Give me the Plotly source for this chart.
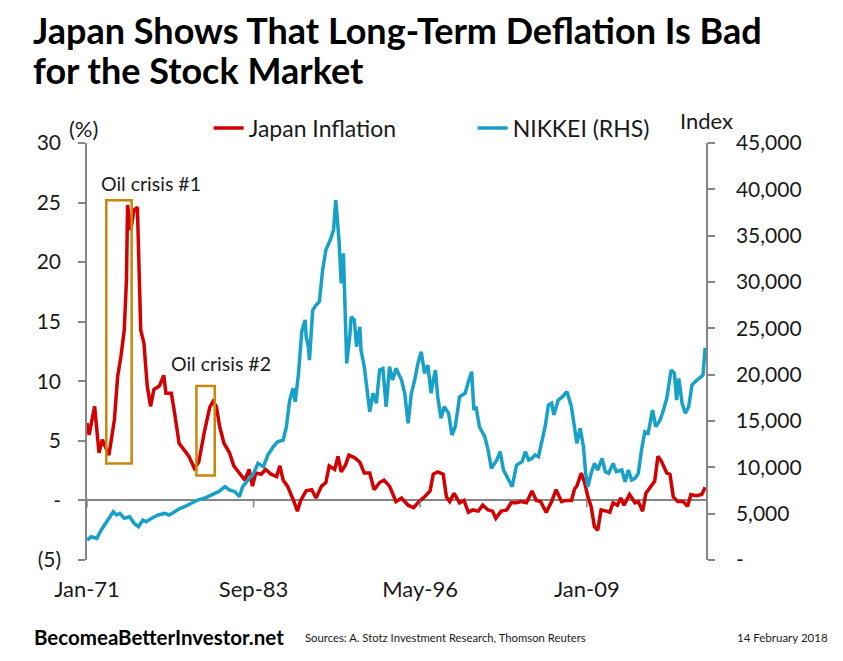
import plotly.graph_objects as go

# Japan CPI inflation, % y/y
infl_dates = [
    "1971-01", "1971-03", "1971-08", "1971-12", "1972-03", "1972-09", "1973-02", "1973-05",
    "1973-08", "1973-11", "1974-01", "1974-02", "1974-05", "1974-08", "1974-11", "1974-12",
    "1975-02", "1975-05", "1975-08", "1975-11", "1976-02", "1976-07", "1976-11", "1977-01",
    "1977-06", "1977-09", "1978-01", "1978-06", "1978-10", "1979-03", "1979-07", "1979-12",
    "1980-05", "1980-08", "1980-11", "1981-02", "1981-06", "1981-11", "1982-03", "1982-08",
    "1983-01", "1983-05", "1983-08", "1983-11", "1984-04", "1984-08", "1985-01", "1985-06",
    "1985-09", "1985-12", "1986-04", "1986-09", "1987-01", "1987-04", "1987-09", "1988-02",
    "1988-06", "1988-11", "1989-03", "1989-06", "1989-11", "1990-02", "1990-05", "1990-09",
    "1990-12", "1991-05", "1991-10", "1992-02", "1992-07", "1992-11", "1993-04", "1993-08",
    "1994-01", "1994-07", "1994-12", "1995-06", "1995-11", "1996-04", "1996-09", "1997-02",
    "1997-05", "1997-09", "1998-02", "1998-05", "1998-08", "1998-12", "1999-05", "1999-09",
    "2000-01", "2000-05", "2000-10", "2001-02", "2001-07", "2001-11", "2002-02", "2002-07",
    "2002-12", "2003-04", "2003-09", "2004-01", "2004-06", "2004-11", "2005-03", "2005-07",
    "2005-12", "2006-05", "2006-09", "2007-02", "2007-06", "2007-11", "2008-02", "2008-04",
    "2008-08", "2008-11", "2009-02", "2009-05", "2009-08", "2009-11", "2010-02", "2010-07",
    "2010-10", "2011-01", "2011-05", "2011-08", "2011-11", "2012-04", "2012-09", "2012-12",
    "2013-04", "2013-07", "2013-12", "2014-03", "2014-06", "2014-09", "2015-02", "2015-05",
    "2015-08", "2015-12", "2016-05", "2016-09", "2016-12", "2017-05", "2017-10", "2018-01",
]
infl_values = [
    6.5, 5.5, 7.9, 4.0, 5.1, 3.8, 6.8, 10.4,
    12.1, 14.3, 18.5, 24.8, 22.7, 24.4, 24.6, 21.3,
    14.3, 13.2, 9.6, 7.9, 9.3, 9.6, 10.5, 9.0,
    9.0, 7.3, 4.8, 4.2, 3.7, 2.7, 3.2, 5.7,
    7.8, 8.3, 7.9, 6.2, 4.8, 4.0, 2.9, 2.3,
    1.7, 2.6, 1.2, 2.3, 2.2, 2.6, 2.2, 2.0,
    2.9, 1.7, 1.2, 0.1, -0.9, 0.0, 0.8, 0.9,
    0.2, 1.2, 1.5, 2.9, 2.6, 3.7, 2.4, 3.0,
    3.8, 3.6, 3.2, 2.3, 2.3, 0.9, 1.5, 1.7,
    1.2, -0.1, 0.2, -0.4, -0.6, -0.1, 0.3, 0.8,
    2.2, 2.4, 2.2, 0.3, -0.1, 0.6, -0.2, 0.0,
    -1.0, -0.8, -0.9, -0.4, -0.8, -0.9, -1.5, -0.9,
    -0.8, -0.2, -0.2, -0.1, -0.2, 0.8, 0.0, -0.1,
    -1.0, -0.1, 0.9, -0.1, 0.0, 0.0, 1.0, 1.2,
    2.3, 1.5, 0.3, -0.5, -2.2, -2.5, -0.8, -0.9,
    -1.0, -0.2, -0.4, 0.2, -0.4, 0.5, -0.2, -0.1,
    -0.9, 0.6, 1.3, 1.6, 3.7, 3.3, 2.3, 2.2,
    0.3, -0.1, -0.1, -0.5, 0.5, 0.4, 0.5, 1.1,
]

# Nikkei 225 index level (right axis)
nk_dates = [
    "1971-01", "1971-05", "1971-10", "1972-02", "1972-08", "1973-01", "1973-04", "1973-07",
    "1973-11", "1974-04", "1974-08", "1974-12", "1975-04", "1975-07", "1975-12", "1976-06",
    "1976-12", "1977-04", "1977-09", "1978-02", "1978-06", "1978-12", "1979-06", "1979-12",
    "1980-07", "1981-01", "1981-07", "1981-11", "1982-04", "1982-08", "1982-11", "1983-04",
    "1983-09", "1984-01", "1984-06", "1984-10", "1985-03", "1985-07", "1985-12", "1986-03",
    "1986-06", "1986-09", "1986-11", "1987-02", "1987-05", "1987-08", "1987-09", "1987-11",
    "1987-12", "1988-03", "1988-06", "1988-09", "1988-12", "1989-03", "1989-07", "1989-10",
    "1989-12", "1990-03", "1990-05", "1990-07", "1990-08", "1990-10", "1991-01", "1991-02",
    "1991-05", "1991-07", "1991-10", "1991-11", "1992-02", "1992-05", "1992-07", "1992-10",
    "1993-01", "1993-04", "1993-07", "1993-10", "1994-01", "1994-04", "1994-07", "1994-12",
    "1995-03", "1995-06", "1995-09", "1995-12", "1996-03", "1996-06", "1996-09", "1996-12",
    "1997-03", "1997-05", "1997-07", "1997-09", "1997-12", "1998-03", "1998-07", "1998-10",
    "1999-01", "1999-05", "1999-10", "2000-01", "2000-04", "2000-06", "2000-08", "2000-11",
    "2001-04", "2001-07", "2001-10", "2002-03", "2002-06", "2002-09", "2003-01", "2003-05",
    "2003-09", "2004-02", "2004-05", "2004-08", "2004-11", "2005-02", "2005-05", "2005-08",
    "2005-11", "2006-02", "2006-05", "2006-07", "2006-11", "2007-03", "2007-07", "2007-11",
    "2008-02", "2008-04", "2008-07", "2008-10", "2008-12", "2009-02", "2009-05", "2009-08",
    "2009-11", "2010-03", "2010-06", "2010-09", "2011-01", "2011-04", "2011-09", "2011-12",
    "2012-03", "2012-06", "2012-09", "2012-12", "2013-03", "2013-06", "2013-09", "2014-01",
    "2014-04", "2014-08", "2014-11", "2015-02", "2015-06", "2015-09", "2015-11", "2016-01",
    "2016-04", "2016-07", "2016-10", "2017-01", "2017-04", "2017-08", "2017-11", "2018-01",
]
nk_values = [
    2160, 2510, 2340, 3240, 4320, 5210, 4860, 5040,
    4500, 4670, 3960, 3590, 4320, 4130, 4500, 4860,
    5040, 4860, 5210, 5580, 5750, 6120, 6470, 6660,
    7010, 7370, 7910, 7550, 7370, 6830, 7910, 8630,
    9350, 10430, 10070, 11330, 12230, 12770, 12950, 14380,
    17260, 18530, 17080, 20140, 24640, 25900, 24100, 23020,
    21580, 26980, 27510, 27870, 31290, 33450, 34530, 35610,
    38840, 34530, 29860, 33100, 28410, 21220, 24460, 26250,
    25900, 23020, 25170, 22660, 20860, 17990, 16000, 17990,
    16910, 20500, 20680, 16540, 20860, 19420, 20680, 19420,
    17990, 14750, 17990, 19420, 21220, 22480, 20140, 21040,
    17990, 19420, 20500, 17620, 15290, 16540, 15830, 13490,
    14380, 17620, 17990, 19240, 20320, 16190, 16540, 14380,
    13300, 11870, 9890, 10790, 11690, 9710, 8810, 7910,
    10250, 10610, 11690, 10790, 10970, 11330, 11150, 12590,
    14380, 16720, 16910, 15650, 17260, 17620, 18160, 16540,
    14380, 12590, 14210, 12230, 9350, 7910, 9350, 10430,
    9710, 10970, 9530, 9350, 10430, 9530, 9710, 8450,
    9710, 8630, 8810, 9350, 11870, 13840, 13670, 16190,
    14380, 15110, 16190, 17450, 20500, 20140, 17260, 19600,
    16910, 15830, 16540, 18880, 19240, 19600, 19960, 22900,
]

x_tick_dates = ["1971-01-01", "1983-09-01", "1996-05-01", "2009-01-01"]
x_tick_labels = ["Jan-71", "Sep-83", "May-96", "Jan-09"]

left_ticks = [-5, 0, 5, 10, 15, 20, 25, 30]
left_labels = ["(5)", "-", "5", "10", "15", "20", "25", "30"]
right_ticks = [0, 5000, 10000, 15000, 20000, 25000, 30000, 35000, 40000, 45000]
right_labels = ["-", "5,000", "10,000", "15,000", "20,000", "25,000",
                "30,000", "35,000", "40,000", "45,000"]

# oil crisis highlight boxes (start, end, low, high)
crisis_boxes = [
    ("1972-06-20", "1974-05-25", 3.1, 25.2),
    ("1979-04-28", "1980-09-18", 2.1, 9.6),
]

RED = "#D20000"
BLUE = "#17A0C8"
GREY = "#868686"
BOX = "#C8860A"
FONT = "Lato"
TXT = "#1a1a1a"

fig = go.Figure()
fig.add_trace(go.Scatter(x=infl_dates, y=infl_values, name="Japan Inflation",
                         mode="lines", line=dict(color=RED, width=3.5)))
fig.add_trace(go.Scatter(x=nk_dates, y=nk_values, name="NIKKEI (RHS)", yaxis="y2",
                         mode="lines", line=dict(color=BLUE, width=3.5)))

for x0, x1, y0, y1 in crisis_boxes:
    fig.add_shape(type="rect", xref="x", yref="y", x0=x0, x1=x1, y0=y0, y1=y1,
                  line=dict(color=BOX, width=2.5), fillcolor="rgba(0,0,0,0)")

# small tick marks hanging below the zero line
for d in x_tick_dates:
    fig.add_shape(type="line", xref="x", yref="y", x0=d, x1=d, y0=0, y1=-0.6,
                  line=dict(color=GREY, width=1.5))

# the page body has an 8px margin, so margins are trimmed by 8 on the left/top
fig.update_layout(
    width=843, height=661,
    margin=dict(l=79, r=145, t=135, b=109),
    paper_bgcolor="white", plot_bgcolor="white",
    font=dict(family=FONT, size=21, color=TXT),
    showlegend=True,
    legend=dict(orientation="h", x=0.1965, xanchor="left", y=1.036, yanchor="middle",
                bgcolor="rgba(0,0,0,0)", font=dict(size=23), entrywidth=219,
                itemwidth=30, tracegroupgap=0),
    xaxis=dict(type="date", range=["1971-01-01", "2018-01-25"],
               tickvals=x_tick_dates, ticktext=x_tick_labels, tickfont=dict(size=22),
               showgrid=False, showline=False, zeroline=False, ticks="",
               ticklabelstandoff=14, automargin=False),
    yaxis=dict(range=[-5, 30], tickvals=left_ticks, ticktext=left_labels,
               showgrid=False, showline=True, linecolor=GREY, linewidth=1.5,
               ticks="outside", ticklen=7, tickcolor=GREY, tickwidth=1.5,
               zeroline=True, zerolinecolor=GREY, zerolinewidth=1.5,
               ticklabelstandoff=13, automargin=False),
    yaxis2=dict(range=[0, 45000], overlaying="y", side="right",
                tickvals=right_ticks, ticktext=right_labels,
                showgrid=False, showline=True, linecolor=GREY, linewidth=1.5,
                ticks="outside", ticklen=7, tickcolor=GREY, tickwidth=1.5,
                zeroline=False, ticklabelstandoff=17, automargin=False),
)

# two-line title as separate annotations to control line spacing
title_lines = ["Japan Shows That Long-Term Deflation Is Bad", "for the Stock Market"]
title_y = [1.272, 1.175]
for t, ty in zip(title_lines, title_y):
    fig.add_annotation(text="<b>" + t + "</b>", x=-0.0905, y=ty, xref="paper", yref="paper",
                       xanchor="left", yanchor="middle", showarrow=False,
                       font=dict(family=FONT, size=36, color="black"))

annos = [
    dict(text="(%)", x=-0.006, y=1.034, xref="paper", yref="paper", size=22),
    dict(text="Index", x=1.001, y=1.053, xref="paper", yref="paper", size=22),
    dict(text="Oil crisis #1", x="1975-11-24", y=26.6, xref="x", yref="y", size=19.5),
    dict(text="Oil crisis #2", x="1981-03-21", y=11.5, xref="x", yref="y", size=19.5),
]
for a in annos:
    fig.add_annotation(text=a["text"], x=a["x"], y=a["y"], xref=a["xref"], yref=a["yref"],
                       xanchor="center", yanchor="middle", showarrow=False,
                       font=dict(family=FONT, size=a["size"], color=TXT))

fig.add_annotation(text="<b>BecomeaBetterInvestor.net</b>", x=-0.0889, y=-0.185,
                   xref="paper", yref="paper", xanchor="left", yanchor="middle",
                   showarrow=False, font=dict(family=FONT, size=20.5, color="black"))
fig.add_annotation(text="Sources: A. Stotz Investment Research, Thomson Reuters",
                   x=0.349, y=-0.185, xref="paper", yref="paper", xanchor="left",
                   yanchor="middle", showarrow=False,
                   font=dict(family=FONT, size=11.3, color=TXT))
fig.add_annotation(text="14 February 2018", x=1.047, y=-0.185, xref="paper", yref="paper",
                   xanchor="left", yanchor="middle", showarrow=False,
                   font=dict(family=FONT, size=11.5, color=TXT))

fig.write_html("out.html")
